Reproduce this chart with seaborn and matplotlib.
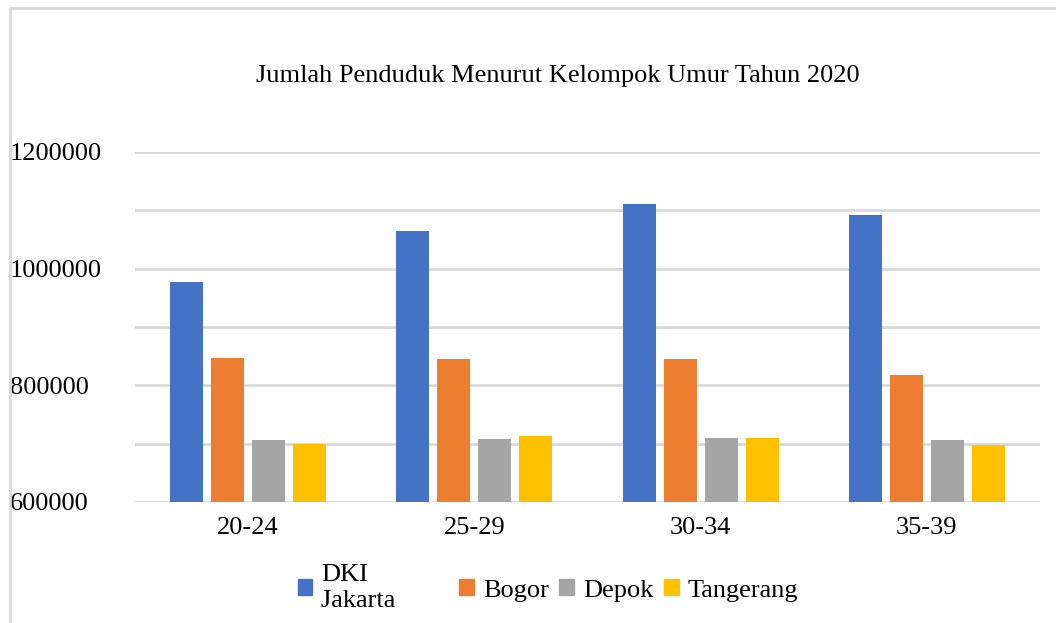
import matplotlib
matplotlib.use("Agg")
import matplotlib.pyplot as plt
import matplotlib.lines as mlines
import matplotlib.patches as mpatches
import pandas as pd
import seaborn as sns

# Data
age_groups = ["20-24", "25-29", "30-34", "35-39"]
regions = ["DKI Jakarta", "Bogor", "Depok", "Tangerang"]
dki_jakarta = [977400, 1064800, 1111100, 1092300]
bogor = [847000, 845300, 845300, 817800]
depok = [706300, 708000, 709800, 706300]
tangerang = [700000, 713200, 709800, 697800]
legend_labels = ["DKI\nJakarta", "Bogor", "Depok", "Tangerang"]
y_major = [600000, 800000, 1000000, 1200000]
y_minor = [700000, 900000, 1100000]

colors = ["#4472C4", "#ED7D31", "#A5A5A5", "#FFC000"]
grid_color = "#D9D9D9"

# Build a long table for seaborn
values = [dki_jakarta, bogor, depok, tangerang]
rows = []
for region, vals in zip(regions, values):
    for age, v in zip(age_groups, vals):
        rows.append({"Umur": age, "Wilayah": region, "Jumlah": v})
df = pd.DataFrame(rows)

sns.set_theme(style="white")
plt.rcParams["font.family"] = ["Liberation Serif", "DejaVu Serif"]
plt.rcParams["text.color"] = "black"
plt.rcParams["xtick.color"] = "black"
plt.rcParams["ytick.color"] = "black"

fig = plt.figure(figsize=(10.56, 6.23), dpi=100)
ax = fig.add_axes([135 / 1056, 1 - 502 / 623, (1040 - 135) / 1056, 350 / 623])

sns.barplot(data=df, x="Umur", y="Jumlah", hue="Wilayah", palette=colors,
            width=0.725, gap=0.2, ax=ax, legend=False, saturation=1,
            errorbar=None, linewidth=0)

# Axis limits, ticks and gridlines
ax.set_ylim(600000, 1200000)
ax.set_yticks(y_major)
ax.set_yticks(y_minor, minor=True)
ax.set_yticklabels([str(v) for v in y_major])
ax.grid(axis="y", which="both", color=grid_color, linewidth=2, zorder=0)
ax.set_axisbelow(True)
for s in ax.spines.values():
    s.set_visible(False)
ax.tick_params(axis="y", which="both", length=0, pad=90, labelsize=19)
ax.tick_params(axis="x", length=0, pad=11, labelsize=19)
for lbl in ax.get_yticklabels():
    lbl.set_horizontalalignment("left")
ax.set_xlabel("")
ax.set_ylabel("")

# Title
fig.text(558 / 1056, 1 - 76 / 623, "Jumlah Penduduk Menurut Kelompok Umur Tahun 2020",
         ha="center", va="center", fontsize=19)

# Legend (Excel leaves extra room after the wrapped first entry)
handles = [mpatches.Patch(color=c) for c in colors]
labels = [legend_labels[0].replace("Jakarta", "Jakarta\u2007\u2007\u2007\u2007")] + legend_labels[1:]
fig.legend(handles, labels, loc="center", bbox_to_anchor=(548 / 1056, 1 - 588 / 623),
           ncol=4, frameon=False, fontsize=19, handlelength=0.55, handleheight=0.55,
           handletextpad=0.35, columnspacing=0.4, labelspacing=0)

# Chart frame (top and left edges only visible)
fig.add_artist(mlines.Line2D([10 / 1056, 1], [1 - 8 / 623, 1 - 8 / 623],
                             transform=fig.transFigure, color=grid_color, linewidth=2))
fig.add_artist(mlines.Line2D([10 / 1056, 10 / 1056], [0, 1 - 8 / 623],
                             transform=fig.transFigure, color=grid_color, linewidth=2))

fig.savefig("out.png", dpi=100)
